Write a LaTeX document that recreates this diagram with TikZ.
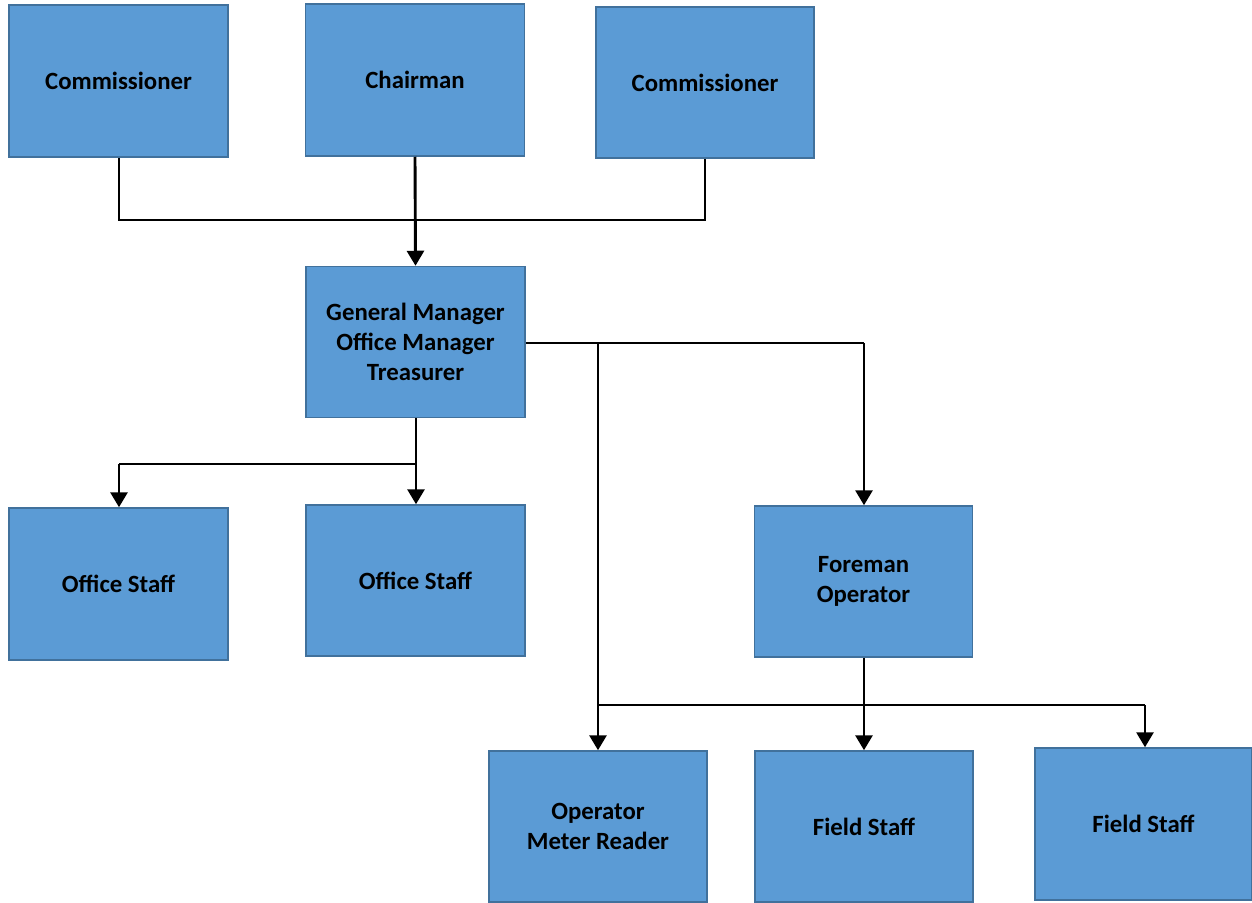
\documentclass[tikz,border=0pt]{standalone}
\usepackage{fontspec}
\setmainfont{Carlito}
\usetikzlibrary{arrows.meta}
\definecolor{boxfill}{HTML}{5B9BD5}
\definecolor{boxline}{HTML}{41719C}
\begin{document}
\begin{tikzpicture}[x=1pt,y=-1pt,
  box/.style={draw=boxline,fill=boxfill,line width=1.5pt,rectangle,inner sep=0pt,
    align=center,font=\fontsize{24.8}{29.8}\selectfont\bfseries,text=black},
  conn/.style={line width=2.9pt,black},
  arr/.style={conn,-{Triangle[length=15pt,width=17pt]}}]
\useasboundingbox (0,0) rectangle (1252,902);
\node[box,minimum width=219pt,minimum height=152pt] (c1) at (118.5,81) {Commissioner};
\node[box,minimum width=219pt,minimum height=152pt] (ch) at (415,80) {Chairman};
\node[box,minimum width=218pt,minimum height=151pt] (c2) at (705,82.5) {Commissioner};
\node[box,minimum width=219pt,minimum height=151pt] (gm) at (415.5,342) {General Manager\\Office Manager\\Treasurer};
\node[box,minimum width=219pt,minimum height=152pt] (os1) at (118.5,584) {Office Staff};
\node[box,minimum width=219pt,minimum height=151pt] (os2) at (415.5,580.5) {Office Staff};
\node[box,minimum width=218pt,minimum height=151pt] (fo) at (863.5,581.5) {Foreman\\Operator};
\node[box,minimum width=218pt,minimum height=151pt] (op) at (598,826.5) {Operator\\Meter Reader};
\node[box,minimum width=218pt,minimum height=151pt] (fs1) at (864,826.5) {Field Staff};
\node[box,minimum width=217pt,minimum height=152pt] (fs2) at (1143.5,824) {Field Staff};
% junction coordinates
\coordinate (ja) at (119,220);
\coordinate (jb) at (705,220);
\coordinate (jc) at (598,343);
\coordinate (jd) at (864,343);
\coordinate (je) at (416,464);
\coordinate (jf) at (119,464);
\coordinate (jg) at (598,705);
\coordinate (jh) at (864,705);
\coordinate (ji) at (1145,705);
% top level
\draw[conn] (c1.south -| ja) -- (ja) -- (jb) -- (c2.south -| jb);
\draw[arr] (ch.south) -- (gm.north);
% general manager to right
\draw[conn] (gm.east |- jc) -- (jc) -- (jd);
\draw[arr] (jd) -- (fo.north -| jd);
\draw[arr] (jc) -- (op.north -| jc);
% general manager down
\draw[conn] (gm.south -| je) -- (je) -- (jf);
\draw[arr] (jf) -- (os1.north -| jf);
\draw[arr] (je) -- (os2.north -| je);
% foreman down
\draw[conn] (fo.south -| jh) -- (jh);
\draw[arr] (jh) -- (fs1.north -| jh);
\draw[conn] (jg) -- (ji);
\draw[arr] (ji) -- (fs2.north -| ji);
\end{tikzpicture}
\end{document}
